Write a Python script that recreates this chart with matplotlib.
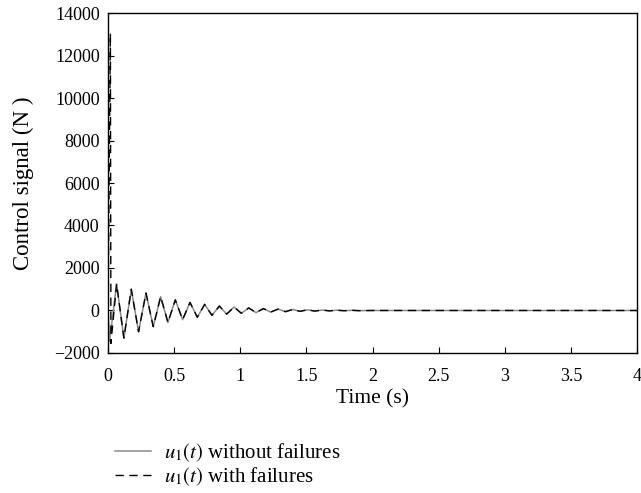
import matplotlib
matplotlib.use("Agg")
import matplotlib.pyplot as plt

# Extrema of the control signal
t_ext = [0.065, 0.120, 0.176, 0.231, 0.287, 0.342, 0.398, 0.453, 0.509, 0.564,
         0.620, 0.675, 0.731, 0.786, 0.842, 0.897, 0.953, 1.008, 1.064, 1.119,
         1.175, 1.230, 1.286, 1.341, 1.397, 1.452, 1.508, 1.563, 1.619, 1.674,
         1.730, 1.785, 1.841, 1.896, 2.0, 4.0]
u_ext = [1250, -1300, 1000, -1000, 820, -760, 650, -560, 500, -430,
         380, -320, 290, -230, 210, -170, 160, -130, 120, -100,
         90, -75, 65, -55, 48, -40, 34, -28, 22, -18,
         14, -11, 9, -7, 0, 0]

# Start of each signal
t_start_nofail = [0.0, 0.012]
u_start_nofail = [0, -1450]
t_start_fail = [0.0, 0.018, 0.022]
u_start_fail = [0, 13050, -1550]

t_nofail = t_start_nofail + t_ext
u_nofail = u_start_nofail + u_ext
t_fail = t_start_fail + t_ext
u_fail = u_start_fail + u_ext

x_ticks = [0, 0.5, 1, 1.5, 2, 2.5, 3, 3.5, 4]
x_ticklabels = ["0", "0.5", "1", "1.5", "2", "2.5", "3", "3.5", "4"]
y_ticks = [-2000, 0, 2000, 4000, 6000, 8000, 10000, 12000, 14000]
y_ticklabels = ["\u22122000", "0", "2000", "4000", "6000", "8000", "10000", "12000", "14000"]

plt.rcParams['font.family'] = ['Liberation Serif', 'DejaVu Serif']
plt.rcParams['mathtext.fontset'] = 'stix'
plt.rcParams['font.size'] = 13

fig = plt.figure(figsize=(6.41, 4.93), dpi=100)
ax = fig.add_axes([0.1685, 0.284, 0.8253, 0.6896])

l1, = ax.plot(t_nofail, u_nofail, color='#8a8a8a', lw=1.1, label='$u_1(t)$ without failures')
l2, = ax.plot(t_fail, u_fail, color='black', lw=1.0, ls=(0, (6, 4)), label='$u_1(t)$ with failures')

ax.set_xlim(0, 4)
ax.set_ylim(-2000, 14000)
ax.set_xticks(x_ticks)
ax.set_xticklabels(x_ticklabels)
ax.set_yticks(y_ticks)
ax.set_yticklabels(y_ticklabels)
ax.tick_params(direction='in', length=4, width=0.8, top=False, right=False, labelsize=13)
ax.tick_params(axis='x', pad=11)
ax.tick_params(axis='y', pad=6)
for s in ax.spines.values():
    s.set_linewidth(1.0)
ax.set_xlabel('Time (s)', fontsize=15.5, labelpad=3)
ax.set_ylabel('Control signal (N )', fontsize=16.5, labelpad=14)

fig.legend(handles=[l1, l2], loc='upper left', bbox_to_anchor=(0.167, 0.121),
           bbox_transform=fig.transFigure, frameon=False, fontsize=15,
           handlelength=1.7, handletextpad=0.65, labelspacing=0.05, borderaxespad=0)

fig.savefig('out.png', dpi=100)
